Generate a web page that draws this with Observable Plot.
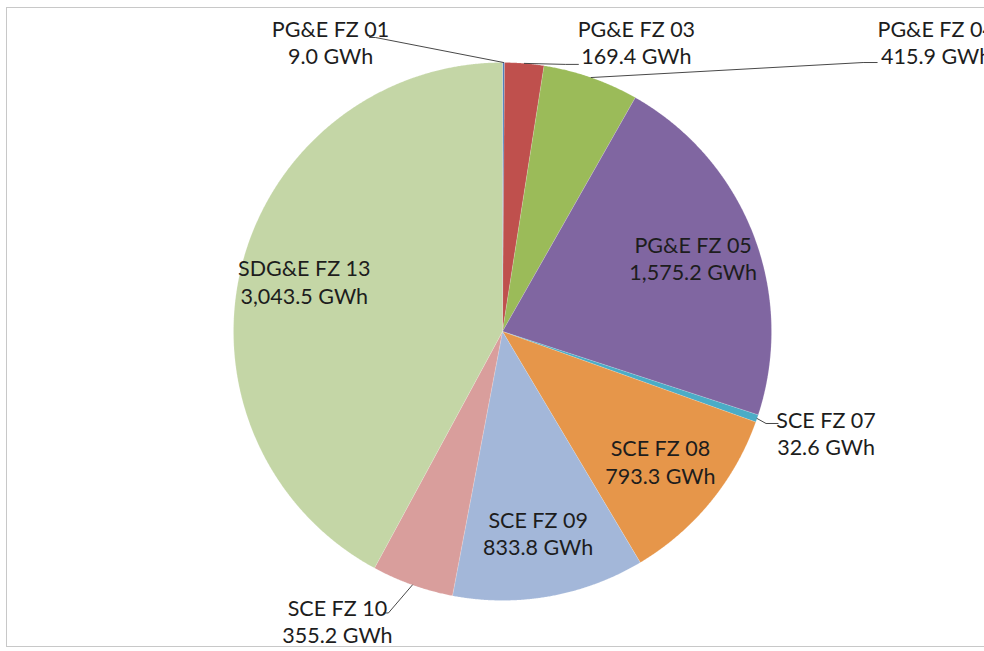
<!DOCTYPE html>
<html><head><meta charset="utf-8">
<script src="https://cdn.jsdelivr.net/npm/d3@7"></script>
<script src="https://cdn.jsdelivr.net/npm/@observablehq/plot@0.6"></script>
<style>
body{margin:0;background:#fff;}
#wrap{position:relative;width:984px;height:651px;overflow:hidden;background:#fff;}
#wrap svg{position:absolute;left:0;top:0;}
#border{position:absolute;left:6px;top:7px;width:1000px;height:640px;border:1px solid #c8c8c8;box-sizing:border-box;pointer-events:none;}
</style></head><body><div id="wrap"><div id="border"></div></div>
<script>
// ---- data ----
const zones = ["PG&E FZ 01","PG&E FZ 03","PG&E FZ 04","PG&E FZ 05","SCE FZ 07","SCE FZ 08","SCE FZ 09","SCE FZ 10","SDG&E FZ 13"];
const gwh = [9.0,169.4,415.9,1575.2,32.6,793.3,833.8,355.2,3043.5];
const colors = ["#4F81BD","#BF504D","#9BBB59","#8066A1","#4BACC6","#E6964A","#A3B7D9","#D99E9C","#C4D6A6"];
const insideZones = ["PG&E FZ 05","SCE FZ 08","SCE FZ 09","SDG&E FZ 13"];

// ---- layout ----
const W = 984, H = 651;
const margin = {left: 233, right: 213, top: 62, bottom: 51};
const R = (W - margin.left - margin.right) / 2; // pixels per unit radius
// outside label placement, in pixels relative to the slice's edge point
const outsideLayout = {
  "PG&E FZ 01": {text: [-173, -21], elbow: [-128, -25], end: [-134, -25]},
  "PG&E FZ 03": {text: [112, -22], elbow: [41, 1], end: [54, 1]},
  "PG&E FZ 04": {text: [345, -36], elbow: [272, -15], end: [286, -15]},
  "SCE FZ 07":  {text: [69, 14], elbow: [9, 5], end: [21, 5]},
  "SCE FZ 10":  {text: [-75, 36], elbow: [-24, 28], end: [-29, 28]}
};

const rows = zones.map((z, i) => ({zone: z, value: gwh[i]}));
const arcs = d3.pie().sort(null).value(d => d.value)(rows);
const fmt = d3.format(",.1f");

const slicePts = [];
for (const a of arcs) {
  const span = a.endAngle - a.startAngle;
  const n = Math.max(2, Math.ceil(span / 0.004));
  slicePts.push({zone: a.data.zone, x: 0, y: 0});
  for (let k = 0; k <= n; k++) {
    const t = a.startAngle + span * k / n;
    slicePts.push({zone: a.data.zone, x: Math.sin(t), y: Math.cos(t)});
  }
  slicePts.push({zone: a.data.zone, x: 0, y: 0});
}

const px = ([dx, dy]) => [dx / R, -dy / R];
const labels = [], leaders = [];
for (const a of arcs) {
  const mid = (a.startAngle + a.endAngle) / 2;
  const text = `${a.data.zone}\n${fmt(a.data.value)} GWh`;
  if (insideZones.includes(a.data.zone)) {
    const r = 0.76;
    labels.push({zone: a.data.zone, text, x: r * Math.sin(mid), y: r * Math.cos(mid)});
  } else {
    const ax = Math.sin(mid), ay = Math.cos(mid);
    const L = outsideLayout[a.data.zone];
    const [tx, ty] = px(L.text), [ex, ey] = px(L.elbow), [nx, ny] = px(L.end);
    labels.push({zone: a.data.zone, text, x: ax + tx, y: ay + ty});
    leaders.push({zone: a.data.zone, x: ax, y: ay});
    leaders.push({zone: a.data.zone, x: ax + ex, y: ay + ey});
    leaders.push({zone: a.data.zone, x: ax + nx, y: ay + ny});
  }
}

const chart = Plot.plot({
  width: W, height: H,
  marginLeft: margin.left, marginRight: margin.right, marginTop: margin.top, marginBottom: margin.bottom,
  x: {domain: [-1, 1], axis: null},
  y: {domain: [-1, 1], axis: null},
  color: {domain: zones, range: colors},
  style: {fontFamily: "Lato, sans-serif", background: "transparent", overflow: "visible"},
  marks: [
    Plot.line(slicePts, {x: "x", y: "y", z: "zone", fill: "zone", stroke: "#ffffff", strokeWidth: 0.5, strokeOpacity: 0.3, curve: "linear"}),
    Plot.line(leaders, {x: "x", y: "y", z: "zone", stroke: "#333", strokeWidth: 0.9}),
    Plot.text(labels, {x: "x", y: "y", text: "text", fontSize: 21.5, lineHeight: 1.26, fill: "#1d1d1d", fontFamily: "Lato, sans-serif"})
  ]
});
document.getElementById("wrap").prepend(chart);
</script>
</body></html>
